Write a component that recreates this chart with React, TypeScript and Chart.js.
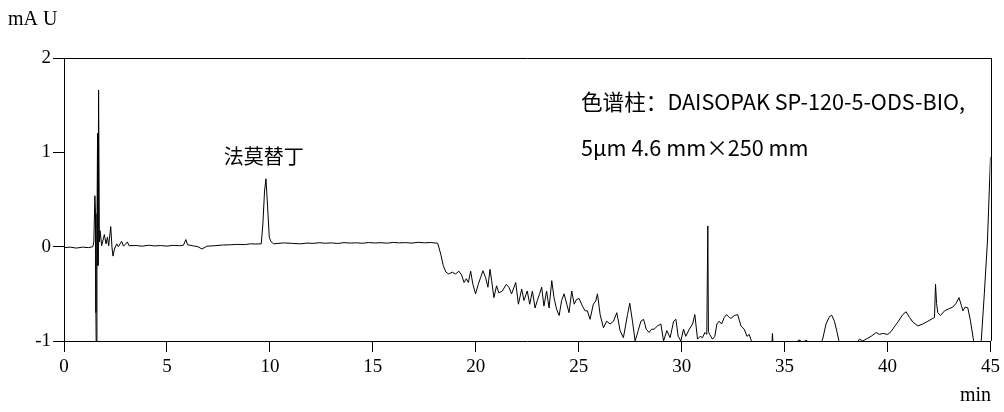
import React, { useEffect, useRef } from "react";
import { Chart, registerables } from "chart.js";

Chart.register(...registerables);

// Retention time (min)
const times: number[] = [
  0, 0.3, 0.6, 0.9, 1.2, 1.4, 1.45, 1.5, 1.53, 1.55, 1.57, 1.6, 1.63, 1.65, 1.68, 1.72,
  1.75, 1.83, 1.96, 2.04, 2.11, 2.17, 2.27, 2.33, 2.38, 2.45, 2.56, 2.64, 2.8, 2.89, 3.08, 3.16,
  3.5, 3.8, 4.1, 4.4, 4.7, 5.0, 5.3, 5.6, 5.8, 5.92, 6.0, 6.29, 6.5, 6.7, 6.94, 7.3, 7.75, 8.1, 8.4, 8.8, 9.05, 9.3, 9.58,
  9.66, 9.74, 9.81, 9.89, 9.97, 10.05, 10.18, 10.67, 11.1, 11.48,
  11.8, 12.1, 12.4, 12.7, 13.0, 13.3, 13.6, 13.9, 14.2, 14.5, 14.8, 15.1, 15.4, 15.7, 16.0, 16.3, 16.6, 16.9, 17.2, 17.5, 17.8, 18.15,
  18.3, 18.42, 18.55, 18.69, 18.86, 19.02, 19.18, 19.31, 19.43, 19.54, 19.64, 19.75, 19.86, 19.99, 20.12, 20.23, 20.35, 20.48,
  20.59, 20.69, 20.77, 20.88, 21.01, 21.12, 21.29, 21.48, 21.61, 21.74, 21.94, 22.07, 22.23, 22.34, 22.5, 22.62, 22.75, 22.88,
  22.99, 23.1, 23.2, 23.31, 23.44, 23.56, 23.69, 23.8, 23.92, 24.05, 24.17, 24.29, 24.42, 24.53, 24.66, 24.78, 24.89, 25.02,
  25.18, 25.31, 25.42, 25.55, 25.71, 25.83, 25.91, 26.04, 26.2, 26.36, 26.52, 26.69, 26.85, 27.01, 27.17, 27.37, 27.48, 27.61,
  27.74, 27.89, 28.02, 28.15, 28.28, 28.42, 28.54, 28.66, 28.83, 28.99, 29.12, 29.28, 29.44, 29.61, 29.72, 29.83, 29.96, 30.09,
  30.2, 30.37, 30.53, 30.64, 30.77, 30.9, 31.01, 31.13, 31.22, 31.27, 31.3, 31.36, 31.5, 31.61, 31.71, 31.82, 31.94, 32.07,
  32.18, 32.31, 32.39, 32.56, 32.72, 32.88, 33.04, 33.17, 33.28, 33.45,
  33.8, 34.2, 34.37, 34.41, 34.45, 35.0, 35.6, 35.65, 35.75, 35.85, 36.0, 36.08, 36.15, 36.5,
  36.85, 37.01, 37.18, 37.29, 37.42, 37.55, 37.66, 38.0, 38.63, 38.8, 38.96, 39.2, 39.45, 39.61, 39.77, 40.01, 40.17, 40.33,
  40.53, 40.74, 40.9, 41.07, 41.23, 41.47, 41.71, 41.96, 42.2, 42.28, 42.33, 42.38, 42.44, 42.57, 42.77, 42.96, 43.17, 43.33,
  43.47, 43.58, 43.66, 43.77, 43.9, 44.03, 44.18, 44.35, 44.55, 44.7, 44.85, 45.0,
];

// Absorbance (mAU)
const absorbance: number[] = [
  -0.01, -0.005, -0.015, -0.005, -0.01, 0.0, 0.05, 0.54, 0.35, -0.7, -1.2, 0.1, 1.2, -0.2, 1.66, 0.05,
  0.17, 0.011, 0.128, 0.03, 0.1, 0.01, 0.213, -0.007, -0.1, -0.025, 0.03, 0.0, 0.057, 0.005, 0.05, 0.01,
  0.012, 0.005, 0.015, 0.008, 0.012, 0.006, 0.014, 0.01, 0.015, 0.075, 0.02, 0.008, 0.0, -0.025, 0.005, 0.01, 0.018, 0.02, 0.024, 0.022, 0.03, 0.028, 0.03,
  0.24, 0.59, 0.72, 0.42, 0.1, 0.054, 0.03, 0.04, 0.035, 0.03,
  0.038, 0.035, 0.042, 0.036, 0.04, 0.034, 0.043, 0.038, 0.041, 0.036, 0.044, 0.039, 0.042, 0.037, 0.045, 0.04, 0.043, 0.038, 0.046, 0.041, 0.044, 0.036,
  -0.08, -0.2, -0.27, -0.29, -0.27, -0.29, -0.26, -0.3, -0.38, -0.34, -0.38, -0.26, -0.4, -0.5, -0.4, -0.33, -0.255, -0.33,
  -0.43, -0.24, -0.36, -0.54, -0.415, -0.49, -0.47, -0.4, -0.43, -0.5, -0.38, -0.61, -0.45, -0.57, -0.47, -0.61, -0.47, -0.65,
  -0.57, -0.5, -0.43, -0.63, -0.47, -0.65, -0.36, -0.54, -0.66, -0.73, -0.57, -0.5, -0.61, -0.7, -0.47, -0.61, -0.56, -0.55,
  -0.63, -0.68, -0.68, -0.77, -0.61, -0.575, -0.5, -0.72, -0.86, -0.79, -0.82, -0.79, -0.7, -0.89, -0.965, -0.72, -0.6, -0.79,
  -1.0, -0.89, -0.79, -0.77, -0.875, -0.91, -0.875, -0.875, -0.84, -0.82, -1.0, -0.89, -0.965, -0.79, -0.77, -0.95, -1.0, -0.875,
  -0.95, -0.875, -0.82, -0.72, -0.98, -0.95, -0.965, -0.91, -0.93, 0.22, -0.9, -0.93, -0.98, -0.95, -0.82, -0.79, -0.82, -0.75,
  -0.72, -0.75, -0.76, -0.73, -0.72, -0.84, -0.875, -0.95, -0.93, -1.04,
  -1.3, -1.3, -1.1, -0.92, -1.1, -1.2, -1.05, -0.995, -0.99, -1.05, -0.995, -0.995, -1.05, -1.15,
  -0.98, -0.82, -0.74, -0.727, -0.79, -0.91, -1.02, -1.2, -0.98, -1.0, -0.98, -0.95, -0.91, -0.93, -0.92, -0.93, -0.9, -0.85,
  -0.79, -0.72, -0.69, -0.75, -0.8, -0.84, -0.82, -0.79, -0.76, -0.75, -0.4, -0.6, -0.7, -0.73, -0.68, -0.66, -0.64, -0.6,
  -0.54, -0.62, -0.68, -0.64, -0.65, -0.79, -1.0, -1.3, -1.0, -0.5, 0.05, 0.95,
];

const xTicks: number[] = [0, 5, 10, 15, 20, 25, 30, 35, 40, 45];
const yTicks: number[] = [-1, 0, 1, 2];

const yTitle = "mA U";
const xTitle = "min";
const peakLabel = "法莫替丁";
const peakTime = 9.7;
const columnLines: string[] = [
  "色谱柱：DAISOPAK SP-120-5-ODS-BIO,",
  "5μm 4.6 mm×250 mm",
];

const SERIF = "'Liberation Serif', 'Times New Roman', serif";
const CJK = "'Noto Sans CJK SC', 'Noto Sans', sans-serif";

const decor = {
  id: "decor",
  afterDraw(chart: any) {
    const { ctx, chartArea: a, scales } = chart;
    ctx.save();
    ctx.strokeStyle = "#000";
    ctx.lineWidth = 1;
    ctx.beginPath();
    ctx.moveTo(a.left, Math.round(a.top) + 0.5);
    ctx.lineTo(a.right + 1, Math.round(a.top) + 0.5);
    ctx.moveTo(Math.round(a.right) + 0.5, a.top);
    ctx.lineTo(Math.round(a.right) + 0.5, a.bottom);
    ctx.stroke();

    ctx.fillStyle = "#000";
    ctx.font = `20px ${SERIF}`;
    ctx.textBaseline = "alphabetic";
    ctx.textAlign = "left";
    ctx.fillText(yTitle, 8, 25);
    ctx.textAlign = "right";
    ctx.fillText(xTitle, 991, 401);

    ctx.font = `20px ${CJK}`;
    ctx.textAlign = "center";
    ctx.textBaseline = "middle";
    const px = scales.x.getPixelForValue(peakTime);
    ctx.fillText(peakLabel, px, 156);

    ctx.textAlign = "left";
    ctx.font = `21.6px ${CJK}`;
    ctx.fillText(columnLines[0], 581, 102);
    ctx.fillText(columnLines[1], 581, 148);
    ctx.restore();
  },
};

export default function App() {
  const ref = useRef<HTMLCanvasElement | null>(null);
  useEffect(() => {
    if (!ref.current) return;
    const data = times.map((t, i) => ({ x: t, y: absorbance[i] }));
    const chart = new Chart(ref.current, {
      type: "line",
      data: {
        datasets: [
          {
            data,
            borderColor: "#000",
            borderWidth: 1,
            pointRadius: 0,
            tension: 0,
            fill: false,
          },
        ],
      },
      options: {
        animation: false,
        responsive: false,
        devicePixelRatio: 1,
        layout: { padding: { top: 58, right: 10, left: 0, bottom: 0 } },
        plugins: { legend: { display: false }, tooltip: { enabled: false } },
        scales: {
          x: {
            type: "linear",
            min: 0,
            max: 45,
            afterBuildTicks: (s: any) => {
              s.ticks = xTicks.map((v) => ({ value: v }));
            },
            afterFit: (s: any) => {
              s.height = 71;
            },
            grid: { drawOnChartArea: false, drawTicks: true, tickLength: 11, color: "#000" },
            border: { display: true, color: "#000", width: 1 },
            ticks: { color: "#000", font: { family: SERIF, size: 19 }, padding: 4, maxRotation: 0 },
          },
          y: {
            type: "linear",
            min: -1,
            max: 2,
            afterBuildTicks: (s: any) => {
              s.ticks = yTicks.map((v) => ({ value: v }));
            },
            afterFit: (s: any) => {
              s.width = 64;
            },
            grid: { drawOnChartArea: false, drawTicks: true, tickLength: 11, color: "#000" },
            border: { display: true, color: "#000", width: 1 },
            ticks: { color: "#000", font: { family: SERIF, size: 19 }, padding: 2 },
          },
        },
      },
      plugins: [decor],
    });
    return () => chart.destroy();
  }, []);
  return (
    <div style={{ position: "fixed", left: 0, top: 0, width: 1004, height: 412, background: "#fff" }}>
      <canvas ref={ref} width={1004} height={412} style={{ display: "block", width: 1004, height: 412 }} />
    </div>
  );
}
